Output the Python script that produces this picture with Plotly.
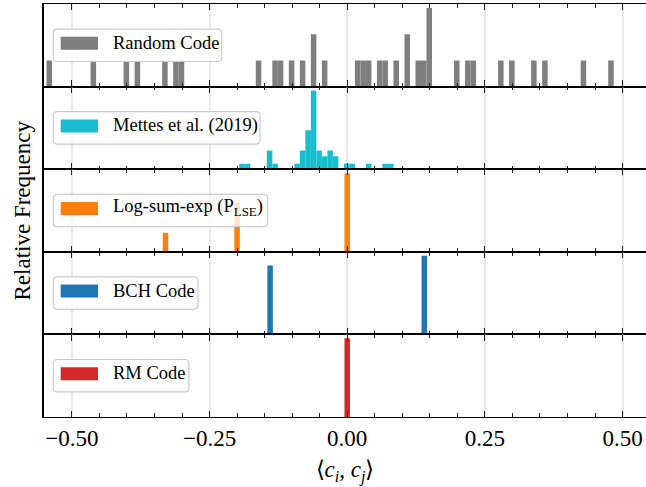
import plotly.graph_objects as go
from plotly.subplots import make_subplots

# ---------------- data ----------------
random_x = [-0.541, -0.461, -0.401, -0.381, -0.331, -0.311, -0.301, -0.161, -0.131,
            -0.121, -0.101, -0.081, -0.061, -0.041, 0.019, 0.029, 0.039, 0.059, 0.069,
            0.089, 0.109, 0.129, 0.139, 0.149, 0.199, 0.219, 0.229, 0.279, 0.299,
            0.339, 0.359, 0.429, 0.479]
random_y = [1, 1, 1, 1, 1, 1, 1, 1, 1,
            1, 1, 1, 2, 1, 1, 1, 1, 1, 1,
            1, 2, 1, 1, 3, 1, 1, 1, 1, 1,
            1, 1, 1, 1]

mettes_x = [-0.191, -0.181, -0.141, -0.131, -0.091, -0.081, -0.071, -0.061, -0.051,
            -0.041, -0.031, -0.021, -0.001, 0.009, 0.039, 0.069, 0.079]
mettes_y = [0.069, 0.069, 0.237, 0.069, 0.069, 0.237, 0.495, 1.0, 0.237,
            0.164, 0.237, 0.164, 0.069, 0.069, 0.069, 0.069, 0.069]

lse_x = [-0.33, -0.20, 0.00]
lse_y = [0.242, 0.625, 1.0]

bch_x = [-0.14, 0.14]
bch_y = [0.875, 1.0]

rm_x = [0.0]
rm_y = [1.0]

bin_width = 0.01

tick_vals = [-0.5, -0.25, 0.0, 0.25, 0.5]
tick_text = ["\u22120.50", "\u22120.25", "0.00", "0.25", "0.50"]

series_names = ["Random Code", "Mettes et al. (2019)", "Log-sum-exp (P<sub>LSE</sub>)",
                "BCH Code", "RM Code"]
series_colors = ["#7f7f7f", "#17becf", "#ff7f0e", "#1f77b4", "#d62728"]
series_x = [random_x, mettes_x, lse_x, bch_x, rm_x]
series_y = [random_y, mettes_y, lse_y, bch_y, rm_y]

# legend box widths (px) per panel
legend_box_w = [168.4, 206.7, 214.4, 144.6, 135.6]

# ---------------- figure ----------------
W, H = 646, 487
ML, MR, MT, MB = 44, 0, 4, 70
x_range = [-0.5506, 0.5426]
FONT = "Liberation Serif, Times New Roman, serif"

fig = make_subplots(rows=5, cols=1, shared_xaxes=True, vertical_spacing=0)

for i in range(5):
    fig.add_trace(go.Bar(x=series_x[i], y=series_y[i], width=bin_width,
                         marker=dict(color=series_colors[i], line=dict(width=0)),
                         name=series_names[i], showlegend=False),
                  row=i + 1, col=1)

for i in range(5):
    r = i + 1
    fig.update_xaxes(row=r, col=1, range=x_range, showline=True, linecolor="black",
                     linewidth=1.4, mirror="allticks", ticks="inside", ticklen=6,
                     tickwidth=1.2, tickcolor="#222", tickmode="array",
                     tickvals=tick_vals, ticktext=tick_text,
                     showgrid=True, gridcolor="rgba(200,200,200,0.4)", gridwidth=2,
                     zeroline=False, layer="above traces", automargin=False,
                     minor=dict(ticks="inside", ticklen=3.5, tickwidth=1.0,
                                tickcolor="#222", tickmode="linear", tick0=0,
                                dtick=0.05, showgrid=False),
                     showticklabels=(r == 5),
                     tickfont=dict(family=FONT, size=23, color="black"),
                     ticklabelstandoff=0)
    ymax = max(series_y[i]) * 1.05
    fig.update_yaxes(row=r, col=1, range=[0, ymax], showticklabels=False, ticks="",
                     showgrid=False, zeroline=False, showline=True, linecolor="black",
                     linewidth=1.8, mirror=False, automargin=False)

fig.update_xaxes(row=5, col=1,
                 title=dict(text="\u27e8<i>c</i><sub><i>i</i></sub>, <i>c</i><sub><i>j</i></sub>\u27e9",
                            font=dict(family=FONT, size=23, color="black"), standoff=11))

shapes = []
annotations = []
for i in range(5):
    sfx = "" if i == 0 else str(i + 1)
    xref = "x" + sfx + " domain"
    yref = "y" + sfx + " domain"
    x0, x1 = 9.3, 9.3 + legend_box_w[i]
    y0, y1 = -16.2, 16.2
    rr = 4
    path = (f"M{x0+rr},{y0} L{x1-rr},{y0} Q{x1},{y0} {x1},{y0+rr} "
            f"L{x1},{y1-rr} Q{x1},{y1} {x1-rr},{y1} L{x0+rr},{y1} "
            f"Q{x0},{y1} {x0},{y1-rr} L{x0},{y0+rr} Q{x0},{y0} {x0+rr},{y0} Z")
    shapes.append(dict(type="path", path=path, xref=xref, yref=yref,
                       xsizemode="pixel", ysizemode="pixel", xanchor=0, yanchor=0.5,
                       fillcolor="rgba(255,255,255,0.8)",
                       line=dict(color="#cccccc", width=1.2), layer="above"))
    shapes.append(dict(type="rect", xref=xref, yref=yref, xsizemode="pixel",
                       ysizemode="pixel", xanchor=0, yanchor=0.5,
                       x0=16.7, x1=54, y0=-4.5, y1=8.5,
                       fillcolor=series_colors[i], line=dict(width=0), layer="above"))
    annotations.append(dict(text=series_names[i], xref=xref, yref=yref, x=0, y=0.5,
                            xanchor="left", yanchor="middle", xshift=66.7, yshift=2.5,
                            showarrow=False,
                            font=dict(family=FONT, size=18.5, color="black")))

annotations.append(dict(text="Relative Frequency", xref="paper", yref="paper",
                        x=0, y=0.5, xanchor="center", yanchor="middle", xshift=-22,
                        textangle=-90, showarrow=False,
                        font=dict(family=FONT, size=23, color="black")))

fig.update_layout(width=W, height=H, margin=dict(l=ML, r=MR, t=MT, b=MB),
                  paper_bgcolor="white", plot_bgcolor="white",
                  shapes=shapes, annotations=annotations, showlegend=False,
                  font=dict(family=FONT, color="black"))

fig.write_html("out.html", config={"displayModeBar": False},
               post_script="document.body.style.margin='0';document.body.style.padding='0';")
